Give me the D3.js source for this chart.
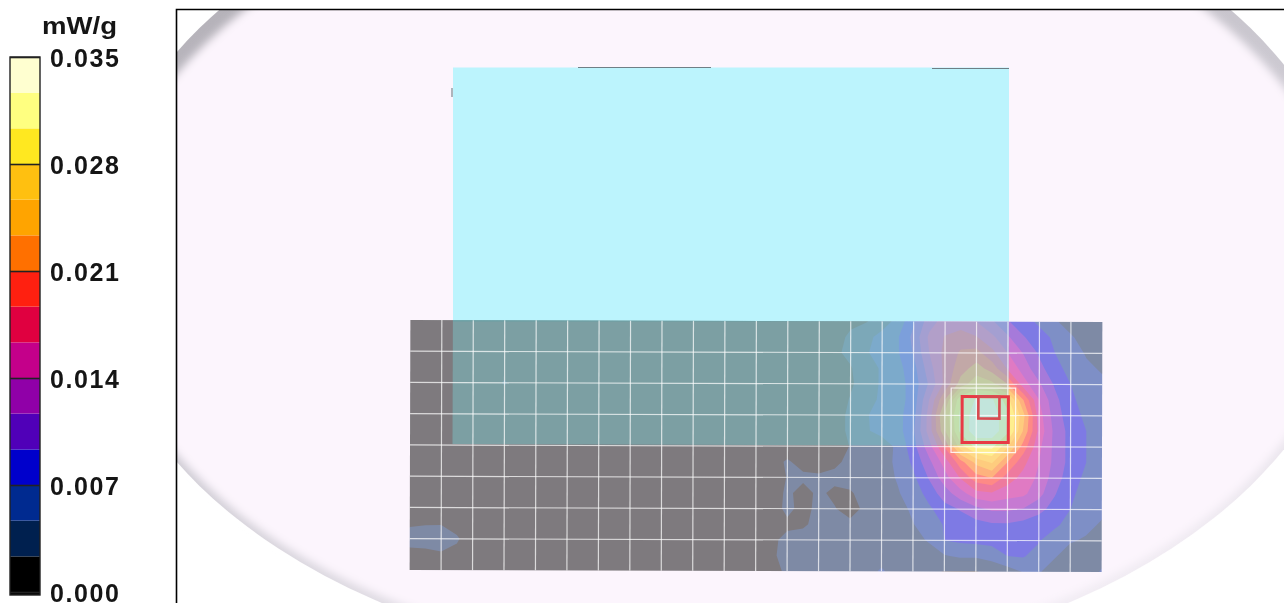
<!DOCTYPE html>
<html lang="en">
<head>
    <meta charset="utf-8">
    <title>SAR scan</title>
    <script type="text/javascript" src="https://d3js.org/d3.v7.min.js"></script>
    <style type="text/css">
        html, body { margin: 0; padding: 0; background: #fff; overflow: hidden; }
        svg { display: block; filter: blur(0.45px); }
        .legend-axis text { font-family: "Liberation Sans", Arial, sans-serif; font-weight: bold; font-size: 25px; letter-spacing: 1.6px; fill: #151515; }
        .legend-axis line { stroke: #222; stroke-width: 1.6; }
        .legend-axis path { display: none; }
        .unit { font-family: "Liberation Sans", Arial, sans-serif; font-weight: bold; font-size: 24px; fill: #151515; }
        .grid line { stroke: #fff; stroke-width: 1.2; stroke-opacity: 0.72; }
    </style>
</head>
<body>
<div id="viz"></div>
<script type="text/javascript">
// colour scale, lowest band first (mW/g)
var tickValues = [0.000, 0.007, 0.014, 0.021, 0.028, 0.035];
var bandLimits = [0, 0.00233, 0.00467, 0.007, 0.00933, 0.01167, 0.014, 0.01633, 0.01867, 0.021, 0.02333, 0.02567, 0.028, 0.03033, 0.03267];
var bandColors = ["#000000", "#00204f", "#002a90", "#0000cc", "#5000b8", "#9000a8", "#c4008a", "#e00040", "#ff2010", "#ff7000", "#ffa400", "#ffc010", "#ffe820", "#ffff80", "#ffffd0"];

// scan values x 1000, one row per half cell, top row first
var sarRows = [
 [1,1,1,1,1,1,1,1,1,1,1,1,1,1,1,1,1,1,1,1,1,1,1,1,1,1,1,1.5,2,2.2,3.5,5.5,9,13,15,15,14,12,9.5,8,6.5,5,3.5,2.5,2.4],
 [1,1,1,1,1,1,1,1,1,1,1,1,1,1,1,1,1,1,1,1,1,1,1,1,1,1,1,1.8,2.6,4,5.5,6.8,10,14.5,16.5,17.5,16.5,14.5,12,9.5,8,6.5,5,3.5,3],
 [1,1,1,1,1,1,1,1,1,1,1,1,1,1,1,1,1,1,1,1,1,1,1,1,1,1,1,2,2.8,4.5,5.5,6.8,9.5,14,17,19,19.5,17,14,11.5,9,7,5.5,4.5,3.5],
 [1,1,1,1,1,1,1,1,1,1,1,1,1,1,1,1,1,1,1,1,1,1,1,1,1,1,1,2,2.2,3.5,5,6.2,8.5,13,17,20,22,20,16,13,10,8,6,5,4.5],
 [1,1,1,1,1,1,2.6,1,1,1,1,1,1,1,1,1,1,1,1,1,1,1,1,1,1,1,1,1.5,2,3.5,5,6,8,12,17,22,25,24,21,15,12,9,7,5.5,5],
 [1,1,1,1,1,1,1,1,1,1,1,1,1,1,1,1,1,1,1,1,1,1,1,1,1,1,1,1,2.5,4,5,6,8,14,21,30,33,33,29,21,14,10,7.5,6,5],
 [1,1,1,1,1,1,1,1,1,1,1,1,1,1,1,1,1,1,1,1,1,1,1,1,1,1,1,1,3,4.5,5.5,6.2,8.5,15,24,31,34,34,31,24,15,10.5,8,6.5,5.5],
 [1,1,1,1,1,1,1,1,1,1,1,1,1,1,1,1,1,1,1,1,1,1,1,1,1,1,0.5,1,3,4.5,5.2,6,9,15,23,31,34,34,31,23,15.5,11,8.5,7,5.5],
 [1,1,1,1,1,1,1,1,1,1,1,1,1,1,1,1,1,1,1,1,1,1,1,1,1,1,1,1.5,2.4,3,3.8,5,8.5,13,19,27,31,31,26,20,14.5,11,8.5,7,5.5],
 [1,1,1,1,1,1,1,1,1,1,1,1,1,1,1,1,1,1,1,1,1,1,1,1.5,2.6,1.5,1.5,1.8,3,3.5,4,5,7.5,11,15,20,24,26,21,17,14,11,8.5,7,5.5],
 [1,1,1,1,1,1,1,1,1,1,1,1,1,1,1,1,1,1,1,1,1,1,1,1.5,2.4,2.8,2.6,3,3.5,3.8,4,4.8,6.5,9.5,13,16.5,20,21,17.5,15.5,13.5,10.5,8,6.5,5.5],
 [1,1,1,1,1,1,1,1,1,1,1,1,1,1,1,1,1,1,1,1,1,1,1,1,2.8,1.5,2.8,1.8,2,3.5,4,4.5,5.5,8,10.5,13,15.5,16,15,14.5,12.5,9.5,7.5,6,5.5],
 [1,1,1,1,1,1,1,1,1,1,1,1,1,1,1,1,1,1,1,1,1,1,1,1,3,1.5,3,2.5,1.2,3,3.5,4,5,6.5,8.5,9.5,11,12,12,11.5,10,8.5,7,5.5,5],
 [2.1,2.2,2.2,1.5,1,1,1,1,1,1,1,1,1,1,1,1,1,1,1,1,1,1,1,1,1.8,2,3,2.8,3,3.5,3.8,4,4.6,5.5,7.2,8,8.5,9,9,8.5,8,7.5,6,5,4.5],
 [3,3.2,3.3,2.6,1,1,1,1,1,1,1,1,1,1,1,1,1,1,1,1,1,1,1,1.8,3,3.2,3.2,3.2,3.2,3.4,3.5,3.8,4.2,4.8,7,7.4,7.6,7.8,7.8,7.6,7.2,5.5,4.8,4.5,4],
 [1.8,1.8,2.1,1.7,1,1,1,1,1,1,1,1,1,1,1,1,1,1,1,1,1,1,1,2,3,3,3,3,3,3,3,3.2,3.5,4,4.5,5,5,5.5,7,7.2,6,4.8,4,3,3.5],
 [1,1,1,1,1,1,1,1,1,1,1,1,1,1,1,1,1,1,1,1,1,1,1,1.8,2.6,3,2.8,2.8,2.8,3,5.2,3,2.8,2.5,2.3,2.2,2.2,3,3.5,4.8,4.8,4,3,3,5]
];

// outer rectangle of the fine scan and the two peak cubes, in half-cell units
var zoomBox = [34.4, 4.25, 38.5, 8.37];
var cubeLarge = [35.1, 4.8, 38.04, 7.73];
var cubeSmall = [36.13, 4.8, 37.47, 6.2];

var width = 1284, height = 603;
var nx = sarRows[0].length, ny = sarRows.length;

var svg = d3.select("#viz").append("svg")
    .attr("width", width)
    .attr("height", height);

var defs = svg.append("defs");
defs.append("filter").attr("id", "soft")
    .attr("x", "-5%").attr("y", "-5%").attr("width", "110%").attr("height", "110%")
    .append("feGaussianBlur").attr("stdDeviation", 4.5);
defs.append("clipPath").attr("id", "frame")
    .append("rect").attr("x", 176).attr("y", 9).attr("width", width - 176).attr("height", height - 9);
defs.append("clipPath").attr("id", "scanArea")
    .append("rect").attr("x", 410).attr("y", 321).attr("width", 692).attr("height", 250);
var rim = defs.append("linearGradient").attr("id", "rim")
    .attr("x1", 0.2).attr("y1", 0).attr("x2", 0.7).attr("y2", 1);
rim.append("stop").attr("offset", "0%").attr("stop-color", "#aeabb2");
rim.append("stop").attr("offset", "55%").attr("stop-color", "#cfccd4");
rim.append("stop").attr("offset", "100%").attr("stop-color", "#f4eff6");

// phantom outline
var phantom = svg.append("g").attr("clip-path", "url(#frame)");
phantom.append("ellipse")
    .attr("cx", 725).attr("cy", 257).attr("rx", 632).attr("ry", 412)
    .attr("fill", "url(#rim)");
phantom.append("ellipse")
    .attr("cx", 725).attr("cy", 264).attr("rx", 624).attr("ry", 398)
    .attr("fill", "#fcf5fd")
    .attr("filter", "url(#soft)");

// device outline above the scan
phantom.append("rect")
    .attr("x", 453).attr("y", 67.5).attr("width", 556).attr("height", 254)
    .attr("fill", "#bcf4fd");
phantom.append("path")
    .attr("d", "M578,67.5H711M932,68.5H1009M452,88V97")
    .attr("fill", "none").attr("stroke", "#6f7f86").attr("stroke-width", 1.1);

// frame
svg.append("path")
    .attr("d", "M176.5,603V9.5H1284")
    .attr("fill", "none").attr("stroke", "#000").attr("stroke-width", 1.6);

// scan surface
var x = d3.scaleLinear().domain([0, nx - 1]).range([410, 1102]);
var y = d3.scaleLinear().domain([0, ny - 1]).range([321, 571]);

var values = d3.merge(sarRows).map(function(d) { return d / 1000; });
var contours = d3.contours()
    .size([nx, ny])
    .thresholds(bandLimits)
    .smooth(true)(values);

var toScreen = d3.geoTransform({
    point: function(px, py) { this.stream.point(x(px - 0.5), y(py - 0.5)); }
});
var contourPath = d3.geoPath(toScreen);

var scan = svg.append("g").attr("transform", "rotate(0.17 756 447)");

scan.append("g")
    .attr("clip-path", "url(#scanArea)")
    .attr("opacity", 0.5)
    .selectAll("path")
    .data(contours)
  .enter().append("path")
    .attr("d", contourPath)
    .attr("fill", function(d, i) { return bandColors[i]; });

// part of the device that lies under the scan
scan.append("rect")
    .attr("x", 452.5).attr("y", 321).attr("width", 556).attr("height", 124)
    .attr("fill", "rgb(122,205,208)").attr("fill-opacity", 0.45);

var grid = scan.append("g").attr("class", "grid");
grid.selectAll(".v")
    .data(d3.range(2, nx - 1, 2))
  .enter().append("line")
    .attr("class", "v")
    .attr("x1", function(d) { return x(d); }).attr("x2", function(d) { return x(d); })
    .attr("y1", y(0)).attr("y2", y(ny - 1));
grid.selectAll(".h")
    .data(d3.range(2, ny - 1, 2))
  .enter().append("line")
    .attr("class", "h")
    .attr("y1", function(d) { return y(d); }).attr("y2", function(d) { return y(d); })
    .attr("x1", x(0)).attr("x2", x(nx - 1));

// fine scan box and peak cubes
scan.append("rect")
    .attr("x", x(zoomBox[0])).attr("y", y(zoomBox[1]))
    .attr("width", x(zoomBox[2]) - x(zoomBox[0])).attr("height", y(zoomBox[3]) - y(zoomBox[1]))
    .attr("fill", "none").attr("stroke", "#fff").attr("stroke-width", 1.2).attr("stroke-opacity", 0.85);
scan.append("rect")
    .attr("x", x(cubeLarge[0])).attr("y", y(cubeLarge[1]))
    .attr("width", x(cubeLarge[2]) - x(cubeLarge[0])).attr("height", y(cubeLarge[3]) - y(cubeLarge[1]))
    .attr("fill", "none").attr("stroke", "#e83a44").attr("stroke-width", 3);
scan.append("rect")
    .attr("x", x(cubeSmall[0])).attr("y", y(cubeSmall[1]))
    .attr("width", x(cubeSmall[2]) - x(cubeSmall[0])).attr("height", y(cubeSmall[3]) - y(cubeSmall[1]))
    .attr("fill", "none").attr("stroke", "#d84a50").attr("stroke-width", 2.6);

// legend
var legendY = d3.scaleLinear().domain([0, 0.035]).range([592, 57]);
var bandTop = function(i) { return i + 1 < bandLimits.length ? legendY(bandLimits[i + 1]) : legendY(0.035); };
var legend = svg.append("g");

legend.selectAll("rect")
    .data(bandLimits)
  .enter().append("rect")
    .attr("x", 10)
    .attr("width", 30)
    .attr("y", function(d, i) { return bandTop(i); })
    .attr("height", function(d, i) { return (i === 0 ? 595 : legendY(d)) - bandTop(i); })
    .attr("fill", function(d, i) { return bandColors[i]; });

legend.append("rect")
    .attr("x", 10).attr("y", 57).attr("width", 30).attr("height", 538)
    .attr("fill", "none").attr("stroke", "#222").attr("stroke-width", 1.4);

legend.append("g")
    .attr("class", "legend-axis")
    .attr("transform", "translate(40,0)")
    .call(d3.axisRight(legendY)
        .tickValues(tickValues)
        .tickFormat(d3.format(".3f"))
        .tickSize(-30)
        .tickPadding(10))
    .selectAll("text")
    .attr("x", 10)
    .attr("dy", 0)
    .attr("y", 9);

legend.append("text")
    .attr("class", "unit")
    .attr("x", 42).attr("y", 34)
    .attr("textLength", 75).attr("lengthAdjust", "spacingAndGlyphs")
    .text("mW/g");
</script>
</body>
</html>
